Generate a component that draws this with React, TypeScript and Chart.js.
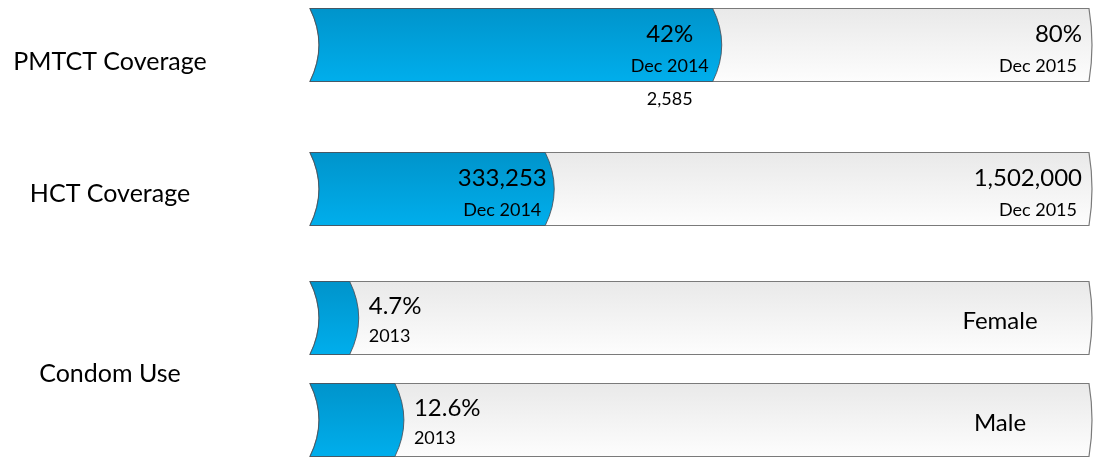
import React, { useEffect, useRef } from "react";
import { Chart, registerables } from "chart.js";

Chart.register(...registerables);

// ---- data ----
const rowLabels = ["PMTCT Coverage", "HCT Coverage", "Condom Use"];
const fullBar = 100;
// share of each bar that is filled (percent of the bar's length)
const fillFirst: (number | null)[] = [51.7, 30.2, 5.1];
const fillSecond: (number | null)[] = [null, null, 10.9];

const valueFirst: (string | null)[] = ["42%", "333,253", "4.7%"];
const dateFirst: (string | null)[] = ["Dec 2014", "Dec 2014", "2013"];
const valueSecond: (string | null)[] = [null, null, "12.6%"];
const dateSecond: (string | null)[] = [null, null, "2013"];
const targetFirst: (string | null)[] = ["80%", "1,502,000", "Female"];
const targetDateFirst: (string | null)[] = ["Dec 2015", "Dec 2015", null];
const targetSecond: (string | null)[] = [null, null, "Male"];
const targetDateSecond: (string | null)[] = [null, null, null];
const noteFirst: (string | null)[] = ["2,585", null, null];
const noteSecond: (string | null)[] = [null, null, null];

const remainder = (arr: (number | null)[]) => arr.map((v) => (v == null ? null : fullBar - v));

const FONT = "Lato, 'Open Sans', sans-serif";
const FILL_CAP = 9;
const TRACK_CAP = 3;
const NOTE_GAP = 17;

function cylinderPath(ctx: CanvasRenderingContext2D, left: number, right: number, top: number, bottom: number, capL: number, capR: number) {
  const mid = (top + bottom) / 2;
  ctx.beginPath();
  ctx.moveTo(left, top);
  ctx.lineTo(right, top);
  ctx.quadraticCurveTo(right + 2 * capR, mid, right, bottom);
  ctx.lineTo(left, bottom);
  ctx.quadraticCurveTo(left + 2 * capL, mid, left, top);
  ctx.closePath();
}

type BarGeom = { row: number; group: number; left: number; fillEnd: number; trackEnd: number; top: number; bottom: number; mid: number };

const textSets = [
  { value: valueFirst, date: dateFirst, target: targetFirst, targetDate: targetDateFirst, note: noteFirst },
  { value: valueSecond, date: dateSecond, target: targetSecond, targetDate: targetDateSecond, note: noteSecond },
];

function collectBars(chart: any): BarGeom[] {
  const out: BarGeom[] = [];
  const groups = [
    [0, 1],
    [2, 3],
  ];
  groups.forEach(([fi, ri], g) => {
    const fMeta = chart.getDatasetMeta(fi);
    const rMeta = chart.getDatasetMeta(ri);
    fMeta.data.forEach((fEl: any, j: number) => {
      const v = chart.data.datasets[fi].data[j];
      if (v == null) return;
      const p = fEl.getProps(["x", "y", "base", "height"], true);
      const r = rMeta.data[j].getProps(["x"], true);
      const top = Math.round(p.y - p.height / 2) + 0.5;
      const bottom = Math.round(p.y + p.height / 2) + 0.5;
      out.push({ row: j, group: g, left: p.base, fillEnd: p.x, trackEnd: r.x, top, bottom, mid: (top + bottom) / 2 });
    });
  });
  return out;
}

const cylinderPlugin = {
  id: "cylinders",
  beforeDatasetsDraw(chart: any) {
    const ctx: CanvasRenderingContext2D = chart.ctx;
    const bars = collectBars(chart);
    ctx.save();
    for (const b of bars) {
      // track
      const tg = ctx.createLinearGradient(0, b.top, 0, b.bottom);
      tg.addColorStop(0, "#e9e9e9");
      tg.addColorStop(1, "#fdfdfd");
      cylinderPath(ctx, b.left, b.trackEnd, b.top, b.bottom, FILL_CAP, TRACK_CAP);
      ctx.fillStyle = tg;
      ctx.fill();
      ctx.lineWidth = 1.2;
      ctx.strokeStyle = "#7a7a7a";
      ctx.stroke();
      // fill
      const fg = ctx.createLinearGradient(0, b.top, 0, b.bottom);
      fg.addColorStop(0, "#0094cb");
      fg.addColorStop(1, "#00aeec");
      cylinderPath(ctx, b.left, b.fillEnd, b.top, b.bottom, FILL_CAP, FILL_CAP);
      ctx.fillStyle = fg;
      ctx.fill();
      ctx.lineWidth = 1;
      ctx.strokeStyle = "rgba(70,80,90,0.85)";
      ctx.stroke();
    }
    ctx.restore();
    return false;
  },
  afterDraw(chart: any) {
    const ctx: CanvasRenderingContext2D = chart.ctx;
    const bars = collectBars(chart);
    const put = (t: string | null, x: number, cy: number, size: number, align: CanvasTextAlign) => {
      if (!t) return;
      ctx.font = `${size}px ${FONT}`;
      ctx.textAlign = align;
      ctx.textBaseline = "alphabetic";
      ctx.fillStyle = "#000";
      ctx.fillText(t, x, cy + 0.358 * size);
    };
    ctx.save();
    for (const b of bars) {
      const tx = textSets[b.group];
      const j = b.row;
      const inside = b.fillEnd - b.left > 100;
      if (inside) {
        const cx = b.fillEnd - 43;
        put(tx.value[j], cx, b.top + 25, 24, "center");
        put(tx.date[j], cx, b.top + 57, 18, "center");
        put(tx.note[j], cx, b.bottom + NOTE_GAP, 18, "center");
      } else {
        const lx = b.fillEnd + 19;
        put(tx.value[j], lx, b.top + 24, 24, "left");
        put(tx.date[j], lx, b.top + 54, 18, "left");
      }
      if (tx.targetDate[j]) {
        put(tx.target[j], b.trackEnd - 7, b.top + 25, 24, "right");
        put(tx.targetDate[j], b.trackEnd - 12, b.top + 57.5, 18, "right");
      } else {
        put(tx.target[j], b.trackEnd - 89, b.mid + 2, 24, "center");
      }
    }
    // row labels, centred on each row's content block (bars plus any note below)
    rowLabels.forEach((label, j) => {
      const rb = bars.filter((b) => b.row === j);
      if (!rb.length) return;
      const top = Math.min(...rb.map((b) => b.top));
      const bottom = Math.max(...rb.map((b) => b.bottom + (textSets[b.group].note[j] ? NOTE_GAP + 8 : 0)));
      const cy = (top + bottom) / 2 + 4;
      put(label, chart.chartArea.left - 200, cy, 25, "center");
    });
    ctx.restore();
  },
};

export default function App() {
  const ref = useRef<HTMLCanvasElement>(null);
  useEffect(() => {
    const chart = new Chart(ref.current as HTMLCanvasElement, {
      type: "bar",
      data: {
        labels: rowLabels,
        datasets: [
          { label: "filled", data: fillFirst, stack: "first", categoryPercentage: 0.404, barPercentage: 3 } as any,
          { label: "to go", data: remainder(fillFirst), stack: "first", categoryPercentage: 0.404, barPercentage: 3 } as any,
          { label: "filled (2nd)", data: fillSecond, stack: "second", categoryPercentage: 2.44, barPercentage: 1 } as any,
          { label: "to go (2nd)", data: remainder(fillSecond), stack: "second", categoryPercentage: 2.44, barPercentage: 1 } as any,
        ],
      },
      options: {
        indexAxis: "y",
        animation: false,
        responsive: false,
        maintainAspectRatio: false,
        skipNull: true,
        maxBarThickness: 73,
        layout: { padding: { left: 310, right: 4, top: 44.5, bottom: 125.5 } },
        plugins: { legend: { display: false }, tooltip: { enabled: false }, title: { display: false } },
        scales: {
          x: { type: "linear", min: 0, max: fullBar, stacked: true, display: false, grid: { display: false } },
          y: { type: "category", offset: false, stacked: true, display: false, grid: { display: false, offset: false } },
        },
      } as any,
      plugins: [cylinderPlugin as any],
    });
    return () => chart.destroy();
  }, []);
  return (
    <div style={{ position: "fixed", left: 0, top: 0, width: 1093, height: 457, background: "#fff" }}>
      <canvas ref={ref} width={1093} height={457} style={{ display: "block" }} />
    </div>
  );
}
